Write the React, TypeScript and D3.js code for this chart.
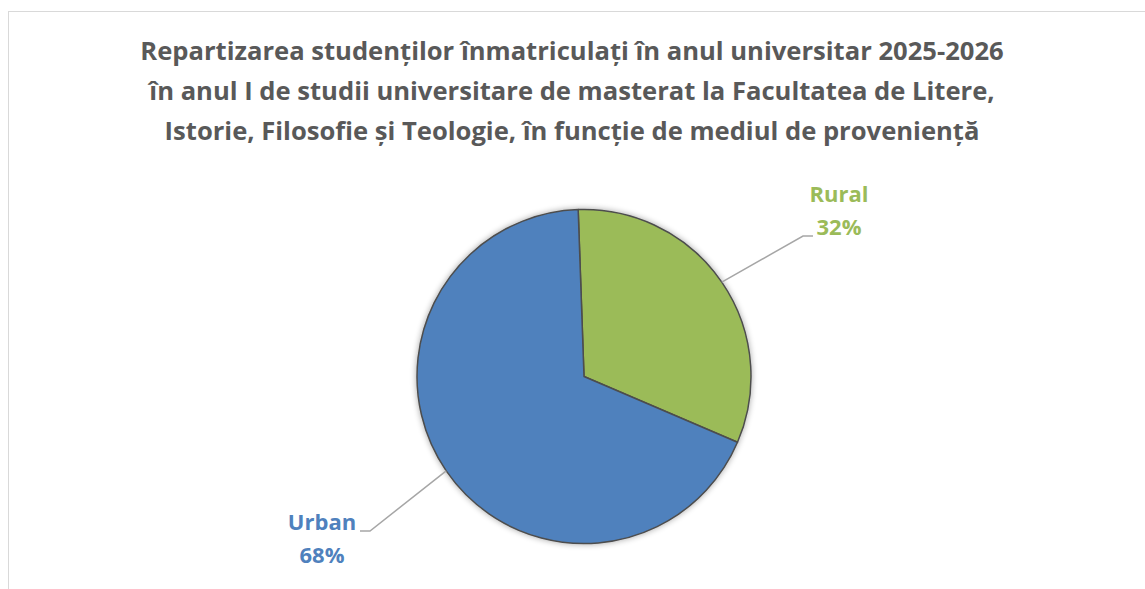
import React, { useEffect, useRef } from 'react';
import * as d3 from 'd3';

const categories = ['Rural', 'Urban'];
const values = [32, 68];
const colors = ['#9BBB59', '#4F81BD'];
const titleLines = [
  'Repartizarea studenților înmatriculați în anul universitar 2025-2026',
  'în anul I de studii universitare de masterat la Facultatea de Litere,',
  'Istorie, Filosofie și Teologie, în funcție de mediul de proveniență',
];

const W = 1145;
const H = 589;

export default function App() {
  const ref = useRef<SVGSVGElement>(null);

  useEffect(() => {
    const svg = d3.select(ref.current);
    svg.selectAll('*').remove();

    // chart border
    svg
      .append('rect')
      .attr('x', 8.5)
      .attr('y', 11.5)
      .attr('width', W + 20)
      .attr('height', H + 20)
      .attr('fill', '#fff')
      .attr('stroke', '#d9d9d9')
      .attr('stroke-width', 1);

    // title
    const title = svg
      .append('text')
      .attr('text-anchor', 'middle')
      .attr('font-family', 'Open Sans, sans-serif')
      .attr('font-weight', 'bold')
      .attr('font-size', 25.6)
      .attr('fill', '#595959');
    titleLines.forEach((t, i) => {
      title
        .append('tspan')
        .attr('x', 572)
        .attr('y', 60 + i * 40)
        .text(t);
    });

    // shadow filter
    const defs = svg.append('defs');
    const f = defs.append('filter').attr('id', 'sh').attr('x', '-10%').attr('y', '-10%').attr('width', '120%').attr('height', '120%');
    f.append('feGaussianBlur').attr('in', 'SourceAlpha').attr('stdDeviation', 3).attr('result', 'b');
    f.append('feComponentTransfer').attr('in', 'b').attr('result', 'b2')
      .append('feFuncA').attr('type', 'linear').attr('slope', 0.35);
    const m = f.append('feMerge');
    m.append('feMergeNode').attr('in', 'b2');
    m.append('feMergeNode').attr('in', 'SourceGraphic');

    const cx = 584;
    const cy = 376.5;
    const r = 167;
    const offset = (-2 * Math.PI) / 180;

    const pie = d3
      .pie<number>()
      .sort(null)
      .startAngle(offset)
      .endAngle(offset + 2 * Math.PI);
    const arcs = pie(values);
    const arc = d3.arc<d3.PieArcDatum<number>>().innerRadius(0).outerRadius(r);

    const g = svg.append('g').attr('transform', `translate(${cx},${cy})`);
    g.append('g')
      .attr('filter', 'url(#sh)')
      .selectAll('path')
      .data(arcs)
      .join('path')
      .attr('d', arc)
      .attr('fill', (_, i) => colors[i])
      .attr('stroke', '#4d4d4d')
      .attr('stroke-width', 1.5)
      .attr('stroke-linejoin', 'round');

    // labels with leader lines
    const labelPos = [
      { x: 839, y1: 202, y2: 235, lx: 813, ly: 236, dir: -1 },
      { x: 322, y1: 530, y2: 563, lx: 360, ly: 531, dir: 1 },
    ];
    arcs.forEach((a, i) => {
      const p = labelPos[i];
      const mid = (a.startAngle + a.endAngle) / 2;
      const ex = cx + Math.sin(mid) * r;
      const ey = cy - Math.cos(mid) * r;
      const bendX = p.lx + p.dir * 10;
      svg
        .append('polyline')
        .attr('points', `${ex},${ey} ${bendX},${p.ly} ${p.lx},${p.ly}`)
        .attr('fill', 'none')
        .attr('stroke', '#a6a6a6')
        .attr('stroke-width', 1.5);
      const t = svg
        .append('text')
        .attr('text-anchor', 'middle')
        .attr('font-family', 'Open Sans, sans-serif')
        .attr('font-weight', 'bold')
        .attr('font-size', 22)
        .attr('fill', colors[i]);
      t.append('tspan').attr('x', p.x).attr('y', p.y1).text(categories[i]);
      t.append('tspan').attr('x', p.x).attr('y', p.y2).text(`${values[i]}%`);
    });
  }, []);

  return (
    <svg
      ref={ref}
      width={W}
      height={H}
      style={{ position: 'absolute', left: 0, top: 0 }}
    />
  );
}
